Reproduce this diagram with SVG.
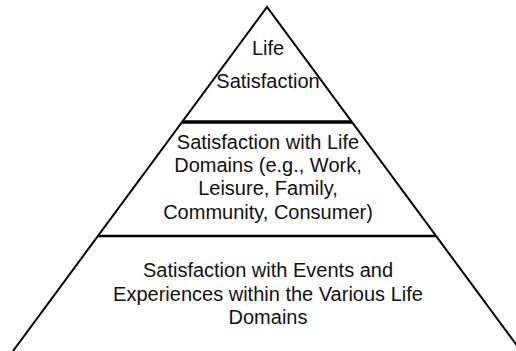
<svg xmlns="http://www.w3.org/2000/svg" width="516" height="351" viewBox="0 0 516 351">
  <style>
    .edge { fill: none; stroke: #000; stroke-width: 2; stroke-linecap: round; stroke-linejoin: miter; }
    .sep { stroke: #000; stroke-width: 2.5; }
    .sep-top { stroke: #000; stroke-width: 3.5; }
    .lbl { font-family: "Liberation Sans", Arial, sans-serif; font-size: 20px; fill: #111; text-anchor: middle; }
  </style>
  <rect width="516" height="351" fill="#fff"/>
  <g id="pyramid-outline">
    <path class="edge" d="M13,351 L267,7 L521,351"/>
  </g>
  <g id="connectors">
    <line class="sep-top" x1="182" y1="122" x2="352" y2="122"/>
    <line class="sep" x1="98" y1="236" x2="436" y2="236"/>
  </g>
  <g id="tier-top">
    <text class="lbl" x="268" y="55">Life</text>
    <text class="lbl" x="268" y="88">Satisfaction</text>
  </g>
  <g id="tier-middle">
    <text class="lbl" x="268" y="149">Satisfaction with Life</text>
    <text class="lbl" x="268" y="172">Domains (e.g., Work,</text>
    <text class="lbl" x="268" y="195">Leisure, Family,</text>
    <text class="lbl" x="268" y="219">Community, Consumer)</text>
  </g>
  <g id="tier-bottom">
    <text class="lbl" x="268" y="277">Satisfaction with Events and</text>
    <text class="lbl" x="268" y="301">Experiences within the Various Life</text>
    <text class="lbl" x="268" y="324">Domains</text>
  </g>
</svg>
